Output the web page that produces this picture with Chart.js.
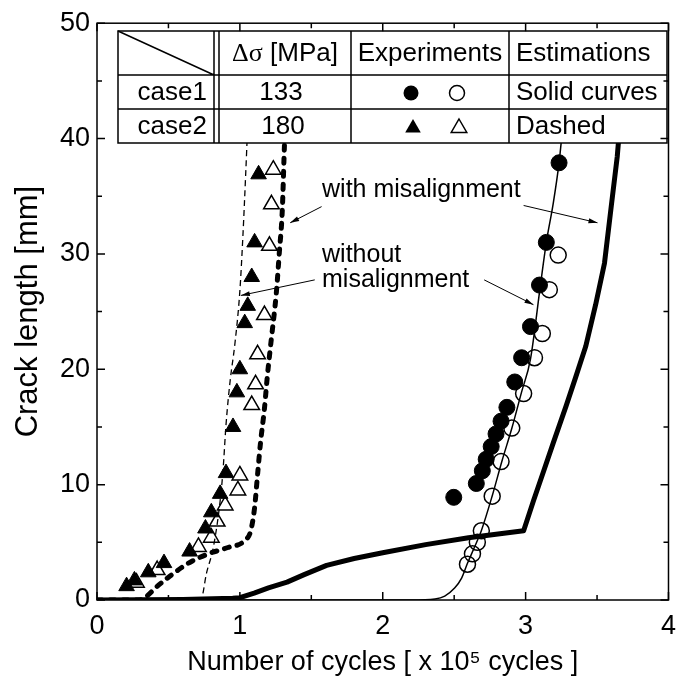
<!DOCTYPE html>
<html lang="en">
<head>
  <meta charset="UTF-8">
  <title>Crack length vs number of cycles</title>
  <script src="https://cdn.jsdelivr.net/npm/chart.js"></script>
  <style>
    html, body {
      margin: 0;
      padding: 0;
      background: #fff;
    }

    .wrap {
      width: 686px;
      height: 685px;
    }
  </style>
</head>
<body>

  <div class="wrap">
    <canvas id="crackChart" width="686" height="685"></canvas>
  </div>

  <script>
    // case1 (133 MPa) estimations - solid curves
    const case1MisX = [0, 0.6, 0.95, 1.0, 1.1, 1.2, 1.33, 1.45, 1.607, 1.8, 2.0, 2.3, 2.6, 2.986, 3.055, 3.124, 3.193, 3.283, 3.35, 3.421, 3.490, 3.552, 3.60, 3.641, 3.66];
    const case1MisY = [0, 0.05, 0.15, 0.2, 0.6, 1.05, 1.55, 2.2, 3.0, 3.6, 4.1, 4.8, 5.4, 6.0, 8.6, 11.1, 13.6, 16.8, 19.3, 22.0, 25.6, 29.2, 34.2, 38.4, 41.2];

    const case1NoMisX = [0, 2.2, 2.366, 2.434, 2.503, 2.552, 2.593, 2.641, 2.690, 2.766, 2.834, 2.903, 2.972, 3.034, 3.103, 3.145, 3.193, 3.234, 3.255];
    const case1NoMisY = [0, 0, 0.09, 0.34, 1.03, 1.89, 3.18, 4.55, 6.01, 9.02, 12.03, 14.86, 18.04, 20.88, 27.23, 31.01, 34.36, 37.89, 40.4];

    // case2 (180 MPa) estimations - dashed curves
    const case2MisX = [0, 0.297, 0.331, 0.414, 0.503, 0.641, 0.779, 0.917, 1.034, 1.076, 1.103, 1.124, 1.145, 1.172, 1.193, 1.220, 1.255, 1.276, 1.297, 1.310, 1.317];
    const case2MisY = [0, 0, 0.17, 1.1, 2.0, 3.2, 4.0, 4.55, 5.15, 6.0, 8.0, 10.9, 13.7, 16.6, 19.5, 22.6, 26.6, 30.1, 33.8, 38.7, 41.2];

    const case2NoMisX = [0, 0.69, 0.731, 0.766, 0.814, 0.862, 0.883, 0.903, 0.931, 0.966, 1.0, 1.021, 1.041, 1.055];
    const case2NoMisY = [0, 0, 0.17, 2.3, 4.55, 8.6, 11.4, 15.2, 18.9, 22.3, 26.8, 31.5, 37.0, 41.2];

    // experiments
    const case1FilledX = [3.234, 3.145, 3.097, 3.034, 2.972, 2.924, 2.869, 2.828, 2.793, 2.759, 2.724, 2.697, 2.655, 2.497];
    const case1FilledY = [37.9, 31.0, 27.3, 23.7, 21.0, 18.9, 16.7, 15.5, 14.4, 13.3, 12.2, 11.2, 10.1, 8.9];

    const case1OpenX = [3.228, 3.166, 3.117, 3.062, 2.986, 2.903, 2.828, 2.766, 2.690, 2.662, 2.628, 2.593];
    const case1OpenY = [29.9, 26.9, 23.1, 21.0, 17.9, 14.9, 12.0, 9.0, 6.0, 5.0, 4.0, 3.1];

    const case2FilledX = [1.131, 1.103, 1.083, 1.055, 1.034, 1.0, 0.979, 0.952, 0.903, 0.862, 0.80, 0.759, 0.648, 0.469, 0.359, 0.262, 0.207];
    const case2FilledY = [36.9, 31.0, 28.0, 25.5, 24.0, 20.0, 18.0, 15.0, 11.0, 9.2, 7.6, 6.2, 4.2, 3.2, 2.4, 1.7, 1.2];

    const case2OpenX = [1.234, 1.221, 1.207, 1.172, 1.124, 1.110, 1.083, 1.0, 0.986, 0.897, 0.841, 0.80, 0.710, 0.421, 0.276];
    const case2OpenY = [37.3, 34.3, 30.7, 24.7, 21.3, 18.7, 16.9, 10.8, 9.5, 8.2, 6.8, 5.4, 4.6, 2.6, 1.5];

    // annotations (data units)
    const noteLabels = [
      { text: 'with misalignment', x: 1.575, y: 35.5 },
      { text: 'without', x: 1.575, y: 29.9 },
      { text: 'misalignment', x: 1.575, y: 27.75 }
    ];
    const noteArrows = [
      [1.572, 34.1, 1.352, 32.7],
      [2.986, 34.2, 3.503, 32.7],
      [1.524, 27.75, 1.007, 26.4],
      [2.710, 27.75, 3.055, 25.6]
    ];

    const fontFamily = "'Liberation Sans', Arial, sans-serif";
    const toPoints = (xs, ys) => xs.map((x, i) => ({ x: x, y: ys[i] }));

    function arrow(ctx, x1, y1, x2, y2) {
      const a = Math.atan2(y2 - y1, x2 - x1);
      ctx.beginPath();
      ctx.moveTo(x1, y1);
      ctx.lineTo(x2, y2);
      ctx.stroke();
      ctx.beginPath();
      ctx.moveTo(x2, y2);
      ctx.lineTo(x2 - 9 * Math.cos(a) + 2.5 * Math.sin(a), y2 - 9 * Math.sin(a) - 2.5 * Math.cos(a));
      ctx.lineTo(x2 - 9 * Math.cos(a) - 2.5 * Math.sin(a), y2 - 9 * Math.sin(a) + 2.5 * Math.cos(a));
      ctx.closePath();
      ctx.fill();
    }

    function triangle(ctx, x, y, r, filled) {
      ctx.beginPath();
      ctx.moveTo(x, y - r);
      ctx.lineTo(x + r * 0.866, y + r * 0.5);
      ctx.lineTo(x - r * 0.866, y + r * 0.5);
      ctx.closePath();
      if (filled) ctx.fill(); else ctx.stroke();
    }

    const decorPlugin = {
      id: 'decor',
      afterDatasetsDraw(chart) {
        const ctx = chart.ctx;
        const xs = chart.scales.x;
        const ys = chart.scales.y;
        ctx.save();
        ctx.fillStyle = '#000';
        ctx.strokeStyle = '#000';

        // notes
        ctx.font = '25px ' + fontFamily;
        ctx.textAlign = 'left';
        ctx.textBaseline = 'middle';
        noteLabels.forEach(n => ctx.fillText(n.text, xs.getPixelForValue(n.x), ys.getPixelForValue(n.y)));
        ctx.lineWidth = 1;
        noteArrows.forEach(a => arrow(ctx,
          xs.getPixelForValue(a[0]), ys.getPixelForValue(a[1]),
          xs.getPixelForValue(a[2]), ys.getPixelForValue(a[3])));

        // table
        const t = { left: 118, d1: 214, d2: 219, c2: 351, c3: 509, right: 667, top: 31, r1: 75, r2: 109, bottom: 143 };
        ctx.fillStyle = '#fff';
        ctx.fillRect(t.left, t.top, t.right - t.left, t.bottom - t.top);
        ctx.fillStyle = '#000';
        ctx.lineWidth = 1.5;
        ctx.strokeRect(t.left, t.top, t.right - t.left, t.bottom - t.top);
        ctx.beginPath();
        [t.r1, t.r2].forEach(y => { ctx.moveTo(t.left, y); ctx.lineTo(t.right, y); });
        [t.d1, t.d2, t.c2, t.c3].forEach(x => { ctx.moveTo(x, t.top); ctx.lineTo(x, t.bottom); });
        ctx.moveTo(t.left, t.top);
        ctx.lineTo(t.d1, t.r1);
        ctx.stroke();

        const hy = (t.top + t.r1) / 2 + 1, y1 = (t.r1 + t.r2) / 2 + 1, y2 = (t.r2 + t.bottom) / 2 + 1;
        const cx2 = (t.d2 + t.c2) / 2, cx3 = (t.c2 + t.c3) / 2;

        // header
        ctx.textBaseline = 'middle';
        const unit = ' [MPa]';
        ctx.font = '26px "Liberation Serif", serif';
        const wSym = ctx.measureText('Δσ').width;
        ctx.font = '26px ' + fontFamily;
        const wUnit = ctx.measureText(unit).width;
        const sx = cx2 - (wSym + wUnit) / 2;
        ctx.textAlign = 'left';
        ctx.font = '26px "Liberation Serif", serif';
        ctx.fillText('Δσ', sx, hy);
        ctx.font = '26px ' + fontFamily;
        ctx.fillText(unit, sx + wSym, hy);
        ctx.textAlign = 'center';
        ctx.fillText('Experiments', cx3, hy);
        ctx.textAlign = 'left';
        ctx.fillText('Estimations', t.c3 + 7, hy);

        // rows
        ctx.textAlign = 'right';
        ctx.fillText('case1', t.d1 - 7, y1);
        ctx.fillText('case2', t.d1 - 7, y2);
        ctx.textAlign = 'center';
        ctx.fillText('133', cx2 - 4, y1);
        ctx.fillText('180', cx2 - 2, y2);
        ctx.textAlign = 'left';
        ctx.fillText('Solid curves', t.c3 + 7, y1);
        ctx.fillText('Dashed', t.c3 + 7, y2);

        ctx.beginPath();
        ctx.arc(411, y1, 7.5, 0, Math.PI * 2);
        ctx.fill();
        ctx.beginPath();
        ctx.arc(457, y1, 7.5, 0, Math.PI * 2);
        ctx.stroke();
        triangle(ctx, 413, y2 + 1, 9, true);
        triangle(ctx, 459, y2 + 1, 9, false);
        ctx.restore();
      },
      afterDraw(chart) {
        const ctx = chart.ctx;
        const a = chart.chartArea;
        const xs = chart.scales.x;
        const ys = chart.scales.y;
        ctx.save();
        ctx.strokeStyle = '#000';
        ctx.lineWidth = 1.5;
        ctx.strokeRect(a.left, a.top, a.right - a.left, a.bottom - a.top);
        ctx.beginPath();
        for (let v = 0; v <= 4; v += 0.5) {
          const len = Number.isInteger(v) ? 8 : 5;
          const px = xs.getPixelForValue(v);
          ctx.moveTo(px, a.bottom); ctx.lineTo(px, a.bottom - len);
          ctx.moveTo(px, a.top); ctx.lineTo(px, a.top + len);
        }
        for (let v = 0; v <= 50; v += 5) {
          const len = v % 10 === 0 ? 8 : 5;
          const py = ys.getPixelForValue(v);
          ctx.moveTo(a.left, py); ctx.lineTo(a.left + len, py);
          ctx.moveTo(a.right, py); ctx.lineTo(a.right - len, py);
        }
        ctx.stroke();
        ctx.restore();
      }
    };

    const tickFont = { family: fontFamily, size: 27 };

    const ctx = document.getElementById('crackChart').getContext('2d');

    new Chart(ctx, {
      type: 'line',
      data: {
        datasets: [
          {
            label: 'case1 experiments (filled)',
            data: toPoints(case1FilledX, case1FilledY),
            showLine: false,
            pointStyle: 'circle',
            pointRadius: 8,
            pointBackgroundColor: '#000',
            pointBorderColor: '#000',
            pointBorderWidth: 1
          },
          {
            label: 'case1 experiments (open)',
            data: toPoints(case1OpenX, case1OpenY),
            showLine: false,
            pointStyle: 'circle',
            pointRadius: 8,
            pointBackgroundColor: 'rgba(0,0,0,0)',
            pointBorderColor: '#000',
            pointBorderWidth: 1.5
          },
          {
            label: 'case2 experiments (filled)',
            data: toPoints(case2FilledX, case2FilledY),
            showLine: false,
            pointStyle: 'triangle',
            pointRadius: 9,
            pointBackgroundColor: '#000',
            pointBorderColor: '#000',
            pointBorderWidth: 1
          },
          {
            label: 'case2 experiments (open)',
            data: toPoints(case2OpenX, case2OpenY),
            showLine: false,
            pointStyle: 'triangle',
            pointRadius: 9,
            pointBackgroundColor: 'rgba(0,0,0,0)',
            pointBorderColor: '#000',
            pointBorderWidth: 1.5
          },
          {
            label: 'case1 without misalignment',
            data: toPoints(case1NoMisX, case1NoMisY),
            borderColor: '#000',
            borderWidth: 1.5,
            pointRadius: 0,
            cubicInterpolationMode: 'monotone',
            fill: false
          },
          {
            label: 'case1 with misalignment',
            data: toPoints(case1MisX, case1MisY),
            borderColor: '#000',
            borderWidth: 5,
            borderJoinStyle: 'round',
            pointRadius: 0,
            tension: 0,
            fill: false
          },
          {
            label: 'case2 without misalignment',
            data: toPoints(case2NoMisX, case2NoMisY),
            borderColor: '#000',
            borderWidth: 1.3,
            borderDash: [6, 4],
            pointRadius: 0,
            cubicInterpolationMode: 'monotone',
            fill: false
          },
          {
            label: 'case2 with misalignment',
            data: toPoints(case2MisX, case2MisY),
            borderColor: '#000',
            borderWidth: 5,
            borderDash: [5, 8],
            borderCapStyle: 'round',
            pointRadius: 0,
            cubicInterpolationMode: 'monotone',
            fill: false
          }
        ]
      },
      options: {
        responsive: false,
        animation: false,
        layout: { padding: { top: 18, right: 9, left: 0, bottom: 0 } },
        plugins: {
          legend: { display: false },
          tooltip: { enabled: false }
        },
        scales: {
          x: {
            type: 'linear',
            min: 0,
            max: 4,
            grid: { display: false, drawTicks: false },
            border: { display: false },
            ticks: { stepSize: 1, color: '#000', font: tickFont, padding: 10, maxRotation: 0 },
            title: {
              display: true,
              text: 'Number of cycles [ x 10⁵ cycles ]',
              color: '#000',
              font: { family: fontFamily, size: 27 },
              padding: { top: 0, bottom: 6 }
            },
            afterFit: s => { s.height = 85; }
          },
          y: {
            type: 'linear',
            min: 0,
            max: 50,
            grid: { display: false, drawTicks: false },
            border: { display: false },
            ticks: { stepSize: 10, color: '#000', font: tickFont, padding: 7 },
            title: {
              display: true,
              text: 'Crack length [mm]',
              color: '#000',
              font: { family: fontFamily, size: 31 },
              padding: { top: 10, bottom: 0 }
            },
            afterFit: s => { s.width = 97; }
          }
        }
      },
      plugins: [decorPlugin]
    });
  </script>
</body>
</html>
